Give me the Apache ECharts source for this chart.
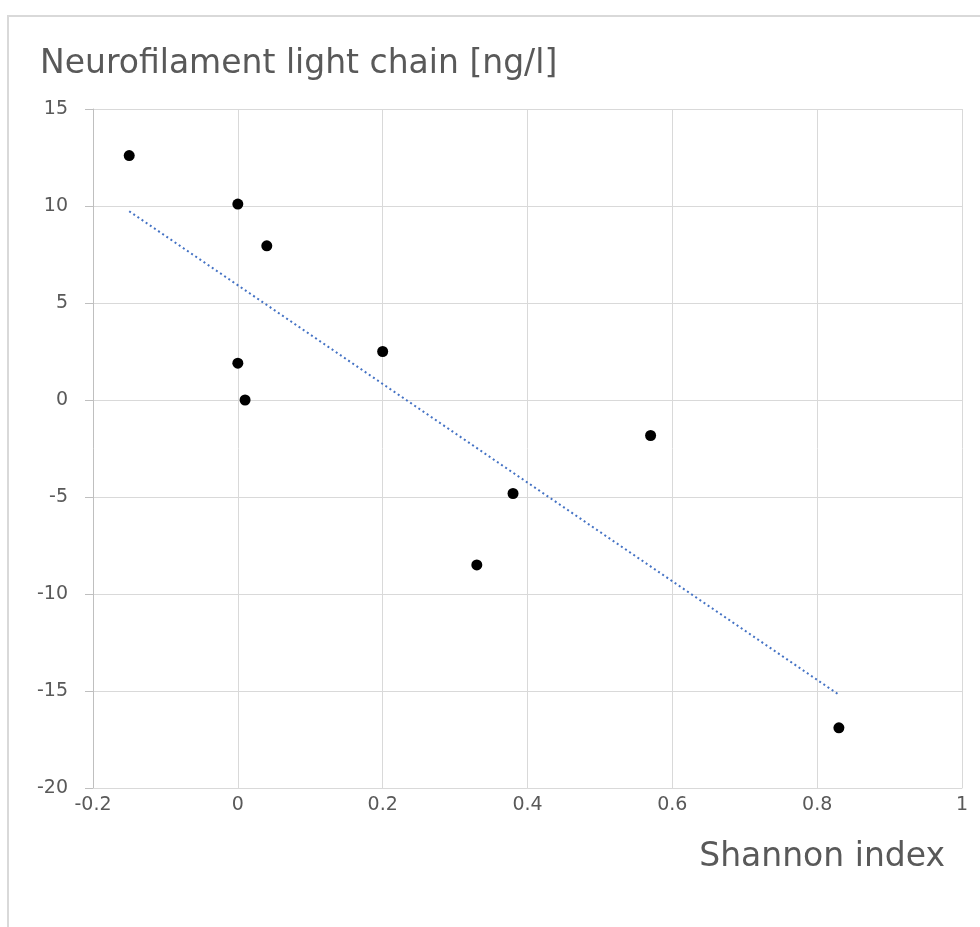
<!DOCTYPE html>
<html><head><meta charset="utf-8">
<script src="https://cdn.jsdelivr.net/npm/echarts@6/dist/echarts.min.js"></script>
<style>html,body{margin:0;padding:0;background:#fff}#c{width:980px;height:927px}</style>
</head><body><div id="c"></div>
<script>
const xValues = [-0.15, 0.0, 0.04, 0.0, 0.01, 0.2, 0.33, 0.38, 0.57, 0.83];
const yValues = [12.6, 10.1, 7.95, 1.9, 0.0, 2.5, -8.5, -4.82, -1.83, -16.9];
const trendX = [-0.15, 0.83];
const trendY = [9.73, -15.19];
const xTicks = [-0.2, 0, 0.2, 0.4, 0.6, 0.8, 1];
const yTicks = [-20, -15, -10, -5, 0, 5, 10, 15];
const titleText = 'Neurofilament light chain [ng/l]';
const xName = 'Shannon index';

const font = 'DejaVu Sans';
const chart = echarts.init(document.getElementById('c'));
chart.setOption({
  animation: false,
  graphic: [
    {type: 'rect', shape: {x: 8, y: 16, width: 1100, height: 1100}, style: {fill: 'none', stroke: '#d9d9d9', lineWidth: 2}, silent: true, z: -1},
    {type: 'text', left: 40, top: 48, style: {text: titleText, font: '33px "' + font + '"', fill: '#595959'}},
    {type: 'text', right: 35, top: 841, style: {text: xName, font: '33px "' + font + '"', fill: '#595959'}}
  ],
  grid: {left: 93, right: 18, top: 109, bottom: 139},
  xAxis: {
    type: 'value', min: xTicks[0], max: xTicks[xTicks.length - 1], interval: 0.2,
    axisLine: {show: true, onZero: false, lineStyle: {color: '#d9d9d9'}},
    axisTick: {show: false},
    splitLine: {show: true, lineStyle: {color: '#d9d9d9'}},
    axisLabel: {color: '#595959', fontSize: 19, fontFamily: font, margin: 8,
      formatter: v => String(Math.round(v * 10) / 10)}
  },
  yAxis: {
    type: 'value', min: yTicks[0], max: yTicks[yTicks.length - 1], interval: 5,
    axisLine: {show: true, onZero: false, lineStyle: {color: '#bfbfbf'}},
    axisTick: {show: true, length: 8, lineStyle: {color: '#bfbfbf'}},
    splitLine: {show: true, lineStyle: {color: '#d9d9d9'}},
    axisLabel: {color: '#595959', fontSize: 19, fontFamily: font, margin: 25}
  },
  series: [
    {type: 'line', data: trendX.map((x, i) => [x, trendY[i]]), symbol: 'none',
      lineStyle: {color: '#4472c4', width: 2, type: [2, 3]}, z: 2},
    {type: 'scatter', data: xValues.map((x, i) => [x, yValues[i]]), symbolSize: 11,
      itemStyle: {color: '#000', opacity: 1}, z: 3}
  ]
});
</script></body></html>
